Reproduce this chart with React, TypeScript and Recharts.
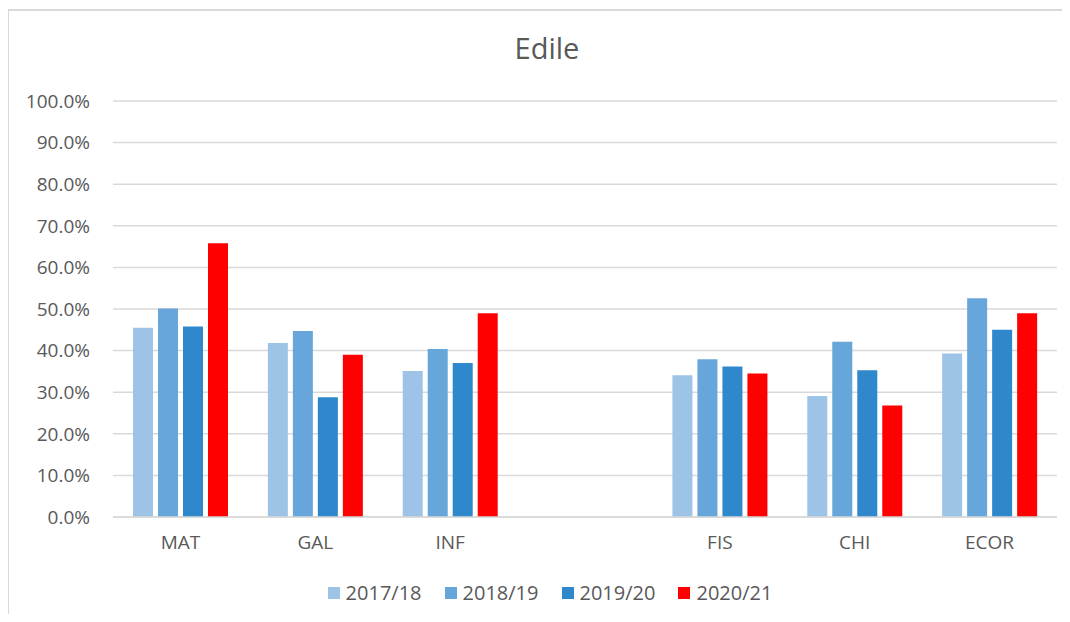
import { Bar, BarChart, CartesianGrid, XAxis, YAxis } from "recharts";

const categories = ["MAT", "GAL", "INF", "", "FIS", "CHI", "ECOR"];
const y2017 = [45.5, 41.8, 35.1, null, 34.1, 29.1, 39.3];
const y2018 = [50.1, 44.7, 40.4, null, 37.9, 42.1, 52.6];
const y2019 = [45.8, 28.8, 37.0, null, 36.2, 35.3, 45.0];
const y2020 = [65.8, 39.0, 49.0, null, 34.5, 26.8, 49.0];
const yTicks = [0, 10, 20, 30, 40, 50, 60, 70, 80, 90, 100];

const SERIES = [
  { key: "s2017", name: "2017/18", color: "#9DC3E6" },
  { key: "s2018", name: "2018/19", color: "#66A6DA" },
  { key: "s2019", name: "2019/20", color: "#2E88CB" },
  { key: "s2020", name: "2020/21", color: "#FF0000" },
];

const data = categories.map((label, i) => ({
  label,
  s2017: y2017[i],
  s2018: y2018[i],
  s2019: y2019[i],
  s2020: y2020[i],
}));

const FONT = "'Open Sans', sans-serif";
const TEXT = "#595959";

export default function App() {
  return (
    <div style={{ position: "relative", width: 1070, height: 622, margin: -8, overflow: "hidden", background: "#fff", fontFamily: FONT }}>
      <div
        style={{
          position: "absolute",
          left: 7,
          top: 9,
          width: 1080,
          height: 640,
          borderTop: "2px solid #d9d9d9",
          borderLeft: "2px solid #d9d9d9",
        }}
      />
      <div style={{ position: "absolute", left: 0, width: 1094, top: 28, textAlign: "center", fontSize: 29, color: TEXT }}>
        Edile
      </div>
      <div style={{ position: "absolute", left: 0, top: 0 }}>
        <BarChart
          width={1070}
          height={622}
          data={data}
          barSize={20}
          barGap={5}
          margin={{ top: 101, right: 13, bottom: 0, left: 0 }}
        >
          <CartesianGrid vertical={false} stroke="#d9d9d9" strokeWidth={1.5} />
          <XAxis
            dataKey="label"
            height={105}
            axisLine={{ stroke: "#d9d9d9", strokeWidth: 1.5 }}
            tickLine={false}
            tick={{ fill: TEXT, fontSize: 19, fontFamily: FONT }}
            tickMargin={13}
          />
          <YAxis
            width={113}
            domain={[0, 100]}
            ticks={yTicks}
            axisLine={false}
            tickLine={false}
            tickSize={0}
            tickMargin={23}
            tickFormatter={(v: number) => `${v.toFixed(1)}%`}
            tick={{ fill: TEXT, fontSize: 19, fontFamily: FONT }}
          />
          {SERIES.map((s) => (
            <Bar key={s.key} dataKey={s.key} name={s.name} fill={s.color} isAnimationActive={false} />
          ))}
        </BarChart>
      </div>
      <div
        style={{
          position: "absolute",
          left: 0,
          width: 1100,
          top: 579,
          display: "flex",
          justifyContent: "center",
          gap: 23,
          fontSize: 20,
          color: TEXT,
        }}
      >
        {SERIES.map((s) => (
          <div key={s.key} style={{ display: "flex", alignItems: "center" }}>
            <span style={{ display: "inline-block", width: 12, height: 12, background: s.color, marginRight: 6 }} />
            <span>{s.name}</span>
          </div>
        ))}
      </div>
    </div>
  );
}
